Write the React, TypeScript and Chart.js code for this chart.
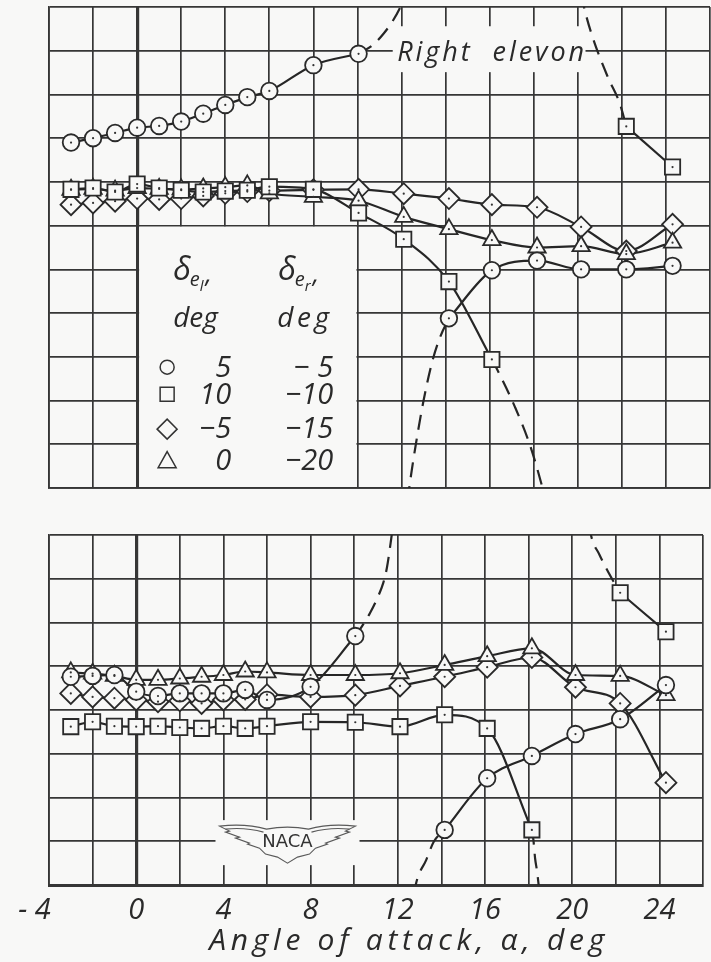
import React, { useEffect, useRef } from 'react';
import { Chart, registerables } from 'chart.js';
Chart.register(...registerables);

// ---------- data ----------
const alphaDeg = [-3, -2, -1, 0, 1, 2, 3, 4, 5, 6, 8, 10.05, 12.1, 14.15, 16.1, 18.15, 20.15, 22.2, 24.3];

// Top panel (right elevon), grid units
const topCircle = [7.9, 8.0, 8.12, 8.24, 8.28, 8.38, 8.56, 8.76, 8.94, 9.08, 9.67, 9.93, null, 3.88, 4.98, 5.2, 5.0, 5.0, 5.08];
const topSquare = [6.83, 6.86, 6.77, 6.95, 6.86, 6.81, 6.77, 6.79, 6.81, 6.89, 6.83, 6.29, 5.69, 4.72, 2.94, null, null, 8.27, 7.34];
const topDiamond = [6.48, 6.52, 6.56, 6.62, 6.6, 6.62, 6.68, 6.74, 6.78, 6.8, 6.82, 6.83, 6.73, 6.62, 6.48, 6.42, 5.97, 5.42, 6.03];
const topTriangle = [6.82, 6.84, 6.8, 6.86, 6.84, 6.83, 6.85, 6.88, 6.92, 6.74, 6.66, 6.57, 6.2, 5.92, 5.67, 5.5, 5.53, 5.35, 5.61];

// Top panel faired dashed extensions
const topCircleUpX = [10.05, 10.7, 11.2, 11.6, 11.95, 12.2];
const topCircleUpY = [9.93, 10.13, 10.4, 10.68, 11.0, 11.3];
const topCircleFromBelowX = [12.28, 12.35, 12.65, 13.0, 13.4, 13.75, 14.15];
const topCircleFromBelowY = [-0.3, 0, 1.0, 2.0, 2.9, 3.45, 3.88];
const topSquareDownX = [16.1, 16.45, 17.15, 17.85, 18.4, 18.5];
const topSquareDownY = [2.94, 2.6, 1.85, 0.95, 0, -0.2];
const topSquareFromAboveX = [20.15, 20.28, 20.6, 21.36, 21.9, 22.2];
const topSquareFromAboveY = [11.3, 11.0, 10.42, 9.4, 8.8, 8.27];

// Bottom panel (left elevon), grid units
const botCircle = [4.76, 4.78, 4.8, 4.42, 4.32, 4.38, 4.38, 4.38, 4.46, 4.23, 4.53, 5.69, null, 1.26, 2.44, 2.95, 3.45, 3.79, 4.57];
const botSquare = [3.62, 3.73, 3.63, 3.62, 3.63, 3.6, 3.58, 3.63, 3.58, 3.63, 3.73, 3.72, 3.62, 3.89, 3.58, 1.26, null, 6.68, 5.79];
const botDiamond = [4.38, 4.3, 4.27, 4.23, 4.19, 4.21, 4.15, 4.23, 4.24, 4.35, 4.3, 4.34, 4.55, 4.76, 4.98, 5.2, 4.52, 4.15, 2.34];
const botTriangle = [4.86, 4.83, 4.78, 4.69, 4.69, 4.72, 4.76, 4.8, 4.88, 4.86, 4.8, 4.8, 4.84, 5.03, 5.23, 5.41, 4.8, 4.78, 4.34];

const botCircleUpX = [10.05, 10.34, 10.72, 11.1, 11.33, 11.5, 11.71, 11.8];
const botCircleUpY = [5.69, 5.9, 6.21, 6.6, 6.9, 7.25, 7.96, 8.3];
const botCircleFromBelowX = [12.76, 12.84, 13.3, 13.65, 14.15];
const botCircleFromBelowY = [-0.2, 0.04, 0.57, 0.99, 1.26];
const botSquareDownX = [18.15, 18.22, 18.3, 18.38, 18.45, 18.5];
const botSquareDownY = [1.26, 1.03, 0.6, 0.34, 0.05, -0.2];
const botSquareFromAboveX = [20.78, 20.86, 21.25, 21.69, 22.2];
const botSquareFromAboveY = [8.25, 8.0, 7.55, 7.12, 6.68];

// Axis ticks
const xTickValues = [-4, 0, 4, 8, 12, 16, 20, 24];
const xTickLabels = ['- 4\u2002\u2002', '0', '4', '8', '12', '16', '20', '24'];
const xTitle = 'Angle of attack, \u03b1, deg';

// Legend
const legendSymbols = ['circle', 'rect', 'rectRot', 'triangle'];
const legendLeft = ['5', '10', '\u22125', '0'];
const legendRight = ['\u2212 5', '\u221210', '\u221215', '\u221220'];
const panelLabel = 'Right  elevon';
const logoText = 'NACA';

// ---------- styles ----------
const PAPER = '#f8f8f7';
const GRID = '#363636';
const INK = '#262626';
const TEXT = '#2a2a2a';
const FONT = '"Open Sans", "DejaVu Sans", sans-serif';

const pts = (xs: number[], ys: (number | null)[], from = 0, to = xs.length - 1) => {
  const out: { x: number; y: number }[] = [];
  for (let i = from; i <= to; i++) if (ys[i] !== null) out.push({ x: xs[i], y: ys[i] as number });
  return out;
};
const pairs = (xs: number[], ys: number[]) => xs.map((x, i) => ({ x, y: ys[i] }));

const lineDs = (data: any[], dashed = false) => ({
  data,
  showLine: true,
  pointRadius: 0,
  pointHoverRadius: 0,
  borderColor: INK,
  borderWidth: 2.2,
  borderDash: dashed ? [15, 9] : [],
  tension: 0.4,
  cubicInterpolationMode: 'monotone',
  fill: false,
  order: 10,
});

const markDs = (data: any[], style: string, radius: number, order: number) => ({
  data,
  showLine: false,
  pointStyle: style,
  pointRadius: radius,
  pointHoverRadius: radius,
  pointBackgroundColor: PAPER,
  pointBorderColor: '#2a2a2a',
  pointBorderWidth: 1.8,
  order,
});

const markers = (c: any[], s: any[], d: any[], t: any[]) => [
  markDs(c, 'circle', 8.3, 1),
  markDs(s, 'rect', 10.8, 2),
  markDs(t, 'triangle', 10, 3),
  markDs(d, 'rectRot', 10.5, 4),
];

function drawDots(chart: any) {
  const { ctx, chartArea } = chart;
  ctx.save();
  ctx.fillStyle = '#333';
  chart.data.datasets.forEach((ds: any, i: number) => {
    if (ds.showLine !== false) return;
    chart.getDatasetMeta(i).data.forEach((el: any) => {
      if (el.y < chartArea.top || el.y > chartArea.bottom) return;
      ctx.beginPath();
      ctx.arc(el.x, el.y, 1.1, 0, Math.PI * 2);
      ctx.fill();
    });
  });
  ctx.restore();
}

function drawSymbol(ctx: CanvasRenderingContext2D, style: string, x: number, y: number) {
  ctx.beginPath();
  if (style === 'circle') ctx.arc(x, y, 7, 0, Math.PI * 2);
  else if (style === 'rect') ctx.rect(x - 7, y - 7, 14, 14);
  else if (style === 'rectRot') {
    ctx.moveTo(x - 10, y); ctx.lineTo(x, y - 10); ctx.lineTo(x + 10, y); ctx.lineTo(x, y + 10); ctx.closePath();
  } else {
    ctx.moveTo(x, y - 10); ctx.lineTo(x + 9, y + 6); ctx.lineTo(x - 9, y + 6); ctx.closePath();
  }
  ctx.stroke();
}

function spacedText(ctx: any, text: string, x: number, y: number, target: number) {
  ctx.letterSpacing = '0px';
  const w = ctx.measureText(text).width;
  const sp = Math.max(0, (target - w) / Math.max(1, text.length - 1));
  ctx.letterSpacing = sp.toFixed(2) + 'px';
  ctx.fillText(text, x, y);
  ctx.letterSpacing = '0px';
}

function drawDelta(ctx: CanvasRenderingContext2D, x: number, y: number, sub: string) {
  ctx.textAlign = 'left';
  ctx.font = `italic 32px ${FONT}`;
  ctx.fillText('\u03b4', x, y);
  let w = ctx.measureText('\u03b4').width;
  ctx.font = `italic 20px ${FONT}`;
  ctx.fillText('e', x + w - 1, y + 6);
  w += ctx.measureText('e').width;
  ctx.font = `italic 15px ${FONT}`;
  ctx.fillText(sub, x + w - 1, y + 11);
  w += ctx.measureText(sub).width;
  ctx.font = `italic 26px ${FONT}`;
  ctx.fillText(',', x + w + 1, y + 3);
}

const topDecor = {
  id: 'topDecor',
  beforeDatasetsDraw(chart: any) {
    const { ctx } = chart;
    const xs = chart.scales.x, ys = chart.scales.y;
    ctx.save();
    ctx.fillStyle = PAPER;
    // legend box (inside grid cells x 0..10, y 0..6)
    const l = xs.getPixelForValue(0) + 2, r = xs.getPixelForValue(10) - 1;
    const t = ys.getPixelForValue(6) + 1, b = ys.getPixelForValue(0) - 1;
    ctx.fillRect(l, t, r - l, b - t);
    // label box
    const l2 = xs.getPixelForValue(11.6), r2 = xs.getPixelForValue(20.35);
    const t2 = ys.getPixelForValue(10.56), b2 = ys.getPixelForValue(9.51);
    ctx.fillRect(l2, t2, r2 - l2, b2 - t2);
    ctx.restore();
  },
  afterDatasetsDraw(chart: any) {
    drawDots(chart);
    const { ctx } = chart;
    const xs = chart.scales.x, ys = chart.scales.y;
    ctx.save();
    ctx.fillStyle = TEXT;
    ctx.strokeStyle = '#333';
    ctx.lineWidth = 1.5;
    ctx.textBaseline = 'alphabetic';
    const L = xs.getPixelForValue(0), T = ys.getPixelForValue(6);
    drawDelta(ctx, L + 36, T + 54, 'l');
    drawDelta(ctx, L + 141, T + 54, 'r');
    ctx.font = `italic 28px ${FONT}`;
    ctx.textAlign = 'left';
    ctx.fillText('deg', L + 36, T + 101);
    spacedText(ctx, 'deg', L + 140, T + 101, 52);
    const symY = [141.5, 168.5, 203.5, 236];
    const baseY = [151.5, 178.5, 212.5, 244.5];
    ctx.font = `italic 29px ${FONT}`;
    legendSymbols.forEach((s, i) => {
      drawSymbol(ctx, s, L + 30, T + symY[i]);
      ctx.textAlign = 'right';
      ctx.fillText(legendLeft[i], L + 94, T + baseY[i]);
      ctx.fillText(legendRight[i], L + 196, T + baseY[i]);
    });
    // panel label
    ctx.textAlign = 'left';
    ctx.font = `italic 27px ${FONT}`;
    spacedText(ctx, panelLabel, xs.getPixelForValue(11.8), ys.getPixelForValue(9.76), 187);
    ctx.restore();
  },
};

const botDecor = {
  id: 'botDecor',
  beforeDatasetsDraw(chart: any) {
    const { ctx } = chart;
    const xs = chart.scales.x, ys = chart.scales.y;
    const cx = xs.getPixelForValue(6.94), cy = ys.getPixelForValue(0.98);
    ctx.save();
    ctx.fillStyle = PAPER;
    ctx.fillRect(cx - 72, cy - 22, 144, 45);
    ctx.restore();
  },
  afterDatasetsDraw(chart: any) {
    drawDots(chart);
    const { ctx, chartArea } = chart;
    const xs = chart.scales.x, ys = chart.scales.y;
    const cx = xs.getPixelForValue(6.94), cy = ys.getPixelForValue(0.98);
    ctx.save();
    // wings emblem
    ctx.translate(cx, cy);
    ctx.strokeStyle = '#5a5a5a';
    ctx.lineWidth = 1.1;
    ctx.beginPath();
    ctx.moveTo(-68, -16);
    ctx.quadraticCurveTo(-42, -19, -21, -13);
    ctx.quadraticCurveTo(0, -17, 21, -13);
    ctx.quadraticCurveTo(42, -19, 68, -16);
    const right = [[58, -11], [62, -10], [48, -5], [52, -4], [38, 1], [40, 2], [28, 6], [22, 12], [10, 15], [0, 21]];
    right.forEach(([x, y]) => ctx.lineTo(x, y));
    right.slice(0, -1).reverse().forEach(([x, y]) => ctx.lineTo(-x, y));
    ctx.closePath();
    ctx.stroke();
    ctx.beginPath();
    ctx.moveTo(-62, -13);
    ctx.quadraticCurveTo(-42, -15, -24, -10);
    ctx.moveTo(62, -13);
    ctx.quadraticCurveTo(42, -15, 24, -10);
    ctx.stroke();
    ctx.fillStyle = '#333';
    ctx.font = `500 18px "DejaVu Sans", sans-serif`;
    ctx.textAlign = 'center';
    ctx.textBaseline = 'middle';
    ctx.fillText(logoText, 0, 0);
    ctx.restore();
    // axis title
    ctx.save();
    ctx.fillStyle = TEXT;
    ctx.font = `italic 30px ${FONT}`;
    ctx.textAlign = 'left';
    ctx.textBaseline = 'middle';
    const tx = xs.getPixelForValue(12.39);
    spacedText(ctx, xTitle, tx - 197, chartArea.bottom + 56, 395);
    ctx.restore();
  },
};

function makeOptions(yMax: number, bottom: boolean, padTop: number, padBottom: number): any {
  return {
    responsive: false,
    maintainAspectRatio: false,
    animation: false,
    devicePixelRatio: 1,
    events: [],
    layout: { autoPadding: false, padding: { left: 49, right: 1, top: padTop, bottom: padBottom } },
    plugins: { legend: { display: false }, tooltip: { enabled: false }, title: { display: false } },
    scales: {
      x: {
        type: 'linear',
        min: -4,
        max: 26,
        ticks: {
          stepSize: 2,
          display: bottom,
          autoSkip: false,
          maxRotation: 0,
          padding: 8,
          color: TEXT,
          font: { family: FONT, size: 29, style: 'italic' },
          callback: (v: number) => {
            const i = xTickValues.indexOf(Math.round(v));
            return i >= 0 ? xTickLabels[i] : '';
          },
        },
        grid: {
          color: GRID,
          lineWidth: (c: any) => (c.tick && c.tick.value === 0 ? 3.2 : 1.7),
          drawTicks: false,
        },
        border: { display: true, color: GRID, width: bottom ? 3 : 1.7 },
        afterFit: (s: any) => { s.height = bottom ? 77 : 0; },
      },
      y: {
        type: 'linear',
        min: 0,
        max: yMax,
        ticks: { stepSize: 1, display: false },
        grid: { color: GRID, lineWidth: 1.7, drawTicks: false },
        border: { display: true, color: GRID, width: 1.7 },
        afterFit: (s: any) => { s.width = 0; },
      },
    },
  };
}

function topConfig(): any {
  return {
    type: 'scatter',
    data: {
      datasets: [
        ...markers(pts(alphaDeg, topCircle), pts(alphaDeg, topSquare), pts(alphaDeg, topDiamond), pts(alphaDeg, topTriangle)),
        lineDs(pts(alphaDeg, topCircle, 0, 11)),
        lineDs(pts(alphaDeg, topCircle, 13, 18)),
        lineDs(pairs(topCircleUpX, topCircleUpY), true),
        lineDs(pairs(topCircleFromBelowX, topCircleFromBelowY), true),
        lineDs(pts(alphaDeg, topSquare, 0, 14)),
        lineDs(pts(alphaDeg, topSquare, 17, 18)),
        lineDs(pairs(topSquareDownX, topSquareDownY), true),
        lineDs(pairs(topSquareFromAboveX, topSquareFromAboveY), true),
        lineDs(pts(alphaDeg, topDiamond)),
        lineDs(pts(alphaDeg, topTriangle)),
      ],
    },
    options: makeOptions(11, false, 7, 12),
    plugins: [topDecor],
  };
}

function botConfig(): any {
  return {
    type: 'scatter',
    data: {
      datasets: [
        ...markers(pts(alphaDeg, botCircle), pts(alphaDeg, botSquare), pts(alphaDeg, botDiamond), pts(alphaDeg, botTriangle)),
        lineDs(pts(alphaDeg, botCircle, 0, 11)),
        lineDs(pts(alphaDeg, botCircle, 13, 18)),
        lineDs(pairs(botCircleUpX, botCircleUpY), true),
        lineDs(pairs(botCircleFromBelowX, botCircleFromBelowY), true),
        lineDs(pts(alphaDeg, botSquare, 0, 15)),
        lineDs(pts(alphaDeg, botSquare, 17, 18)),
        lineDs(pairs(botSquareDownX, botSquareDownY), true),
        lineDs(pairs(botSquareFromAboveX, botSquareFromAboveY), true),
        lineDs(pts(alphaDeg, botDiamond)),
        lineDs(pts(alphaDeg, botTriangle)),
      ],
    },
    options: makeOptions(8, true, 35, 0),
    plugins: [botDecor],
  };
}

export default function App() {
  const topRef = useRef<HTMLCanvasElement>(null);
  const botRef = useRef<HTMLCanvasElement>(null);
  useEffect(() => {
    document.body.style.margin = '0';
    document.body.style.background = PAPER;
    const c1 = new Chart(topRef.current as HTMLCanvasElement, topConfig());
    const c2 = new Chart(botRef.current as HTMLCanvasElement, botConfig());
    return () => {
      c1.destroy();
      c2.destroy();
    };
  }, []);
  return (
    <div style={{ position: 'relative', width: 711, height: 962, background: PAPER, overflow: 'hidden' }}>
      <canvas ref={topRef} width={711} height={500} style={{ position: 'absolute', left: 0, top: 0, width: 711, height: 500 }} />
      <canvas ref={botRef} width={711} height={462} style={{ position: 'absolute', left: 0, top: 500, width: 711, height: 462 }} />
    </div>
  );
}
